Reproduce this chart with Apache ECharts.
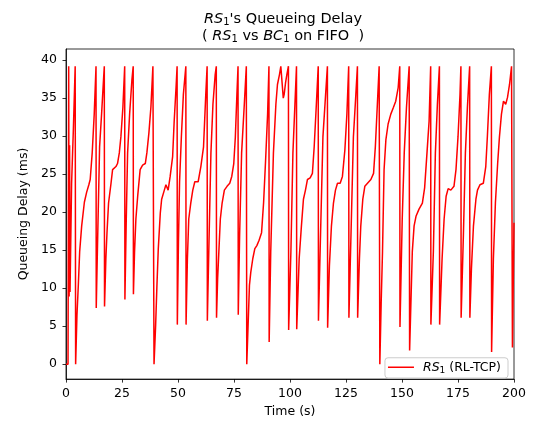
<!DOCTYPE html>
<html><head><meta charset="utf-8">
<script src="https://cdn.jsdelivr.net/npm/echarts@6/dist/echarts.min.js"></script>
<style>html,body{margin:0;padding:0;background:#fff}#c{width:535px;height:423px}</style>
</head><body><div id="c"></div>
<script>
// time (s), queueing delay (ms)
const seg0to50 = [
  [0,0],[0.9,0],[1.2,39.2],[1.4,8.9],[1.6,28.8],[1.8,9.5],[2.5,23.8],[3.3,31],[4.1,39.2],[4.3,0],
  [4.9,6.5],[5.5,10.4],[6.1,14.8],[7.0,18.2],[8.2,21.3],[9.2,22.6],[10.2,23.6],[10.8,24.3],[11.7,27.8],[12.6,32.9],[13.4,39.2],[13.5,7.4],
  [14.1,16.1],[15.0,28.6],[15.9,33],[16.8,37.7],[17.1,39.2],[17.2,7.6],
  [17.8,13.9],[18.3,17.3],[19.0,21.2],[20.1,23.8],[20.8,25.6],[22.3,26.0],[23.0,26.4],[23.8,27.8],[24.5,29.9],[25.4,33.8],[26.2,39.2],[26.3,8.5],
  [26.9,19],[27.5,27.8],[28.4,32.9],[29.4,37.3],[30.0,39.2],[30.1,9.2],
  [30.6,14.8],[31.2,19.1],[32.0,22.1],[33.1,25.6],[34.2,26.2],[35.4,26.4],[36.1,27.8],[37.0,30.4],[37.9,33.8],[38.8,39.2],[39.3,0],
  [40.0,5],[40.6,10.4],[41.2,15.2],[42.1,19.9],[42.7,21.7],[43.9,22.9],[44.6,23.6],[45.6,22.9],[46.5,24.7],[47.6,27.3],[48.3,32],[49.2,36.8],[49.6,39.2],[49.7,5.2]
];
const seg50to100 = [
  [50.2,16],[50.7,24],[51.5,29.9],[52.4,35.5],[53.5,39.2],[53.6,5.2],
  [54.2,13.9],[54.8,19.1],[55.7,21.2],[56.6,22.9],[57.5,24.0],[59.0,24.0],[60.2,26.0],[61.4,28.6],[62.4,35.5],[63.0,39.2],[63.1,5.7],
  [63.8,15.6],[64.7,27.8],[65.6,34.2],[66.6,38.1],[67.1,39.2],[67.2,6.1],
  [67.7,11.3],[68.3,15.2],[68.9,19.1],[69.7,21.2],[70.7,22.9],[71.9,23.4],[73.1,23.8],[74.0,24.7],[74.9,26.4],[75.6,29.9],[76.3,35.5],[76.8,39.2],[76.9,6.5],
  [77.5,16.9],[78.4,27.8],[79.6,34.2],[80.5,39.2],[80.7,0],
  [81.3,5.2],[81.9,10.4],[82.5,12.1],[83.4,13.9],[84.3,15.2],[85.2,15.6],[86.2,16.3],[87.3,17.3],[88.2,21.2],[89.1,26.8],[90.0,32.9],[90.6,39.2],[90.7,2.9],
  [91.4,14.8],[92.6,27.8],[93.7,34.2],[94.4,36.8],[95.3,38.1],[95.9,39.2],[96.6,39.2],[97.0,35],[97.4,35.5],[98.0,37],[98.6,38.1],[99.3,39.2],[99.4,4.5]
];
const seg100to150 = [
  [100.4,14.8],[101.3,27.8],[102.2,34.2],[102.9,39.2],[103.0,4.6],
  [104.1,13.9],[105.1,18.2],[106.0,21.7],[106.9,22.9],[107.8,24.3],[109.0,24.5],[110.0,25.1],[110.8,28.6],[111.7,33.8],[112.6,39.2],[112.7,5.7],
  [113.8,19.1],[114.7,29.9],[115.9,35.5],[116.7,39.2],[116.8,4.8],
  [117.6,13.0],[118.5,18.2],[119.4,21.2],[120.3,22.9],[121.2,23.8],[122.4,23.8],[123.4,24.7],[124.5,28.2],[125.4,32.9],[126.2,39.2],[126.3,6.1],
  [127.4,19.1],[128.3,29.9],[129.4,35.5],[130.1,39.2],[130.2,6.1],
  [131.0,13.9],[131.6,18.2],[132.5,21.7],[133.4,23.4],[134.6,23.8],[136.1,24.3],[137.3,25.1],[138.1,28.6],[139.0,34.2],[139.8,39.2],[140.1,0],
  [140.7,8],[141.3,14.8],[142.0,25.6],[142.8,29.5],[143.8,31.6],[145.0,32.9],[146.2,33.8],[147.2,34.6],[148.3,36.4],[149.0,39.2],[149.1,4.9]
];
const seg150to200 = [
  [150.1,19.1],[151.0,27.8],[152.0,33.8],[153.2,39.2],[153.4,1.8],
  [154.6,14.8],[155.4,18.2],[156.3,19.5],[157.6,20.4],[159.1,21.2],[160.1,23.2],[161.2,28.0],[162.1,32],[162.8,39.2],[162.9,5.2],
  [164.0,14.8],[164.9,27.8],[165.8,34.2],[166.7,39.2],[166.8,5.2],
  [167.9,13.9],[168.8,19.1],[169.7,22.1],[170.6,23.1],[171.8,22.9],[173.2,23.4],[174.1,25.6],[175.0,29.9],[175.9,35.5],[176.3,39.2],[176.4,6.1],
  [177.4,16.9],[178.3,27.8],[179.2,33.8],[180.2,39.2],[180.3,6.1],
  [181.0,12.6],[181.9,18.2],[183.0,21.7],[183.7,22.9],[184.8,23.6],[186.3,23.8],[187.4,26.0],[188.1,29.9],[189.0,35.5],[189.9,39.2],[190.0,1.6],
  [190.8,13.9],[191.7,21.2],[192.7,26.4],[193.5,29.9],[194.4,32.9],[195.3,34.6],[196.3,34.2],[197.1,35.1],[198.0,36.8],[198.9,39.2],[199.3,2.2],[200,18.6]
];
const xTicks = [0,25,50,75,100,125,150,175,200];
const yTicks = [0,5,10,15,20,25,30,35,40];

const FONT = 'DejaVu Sans';
const FS = 12.5;
const TFS = 14.5;
const data = [].concat(seg0to50, seg50to100, seg100to150, seg150to200);
const chart = echarts.init(document.getElementById('c'), null, {renderer:'canvas'});
const richBase = (fs, padFirst) => ({
  n:{fontFamily:FONT,fontSize:fs,color:'#000',lineHeight:fs+3},
  i:{fontFamily:FONT,fontSize:fs,fontStyle:'italic',color:'#000',lineHeight:fs+3,padding:[0,0,0,padFirst||0]},
  s:{fontFamily:FONT,fontSize:Math.round(fs*0.7),color:'#000',verticalAlign:'bottom',lineHeight:fs+3}
});
chart.setOption({
  animation:false,
  backgroundColor:'#fff',
  grid:{left:66,right:21,top:49,bottom:39,show:true,borderColor:'#000',borderWidth:0.8,containLabel:false},
  graphic:[
    {type:'text',x:283,y:19,style:{text:'{i|RS}{s|1}{n|\'s Queueing Delay}',rich:richBase(TFS),align:'center',verticalAlign:'middle',fill:'#000',font:TFS+'px '+FONT}},
    {type:'text',x:283,y:36,style:{text:'{n|( }{i|RS}{s|1}{n| vs }{i|BC}{s|1}{n| on FIFO  )}',rich:richBase(TFS),align:'center',verticalAlign:'middle',fill:'#000',font:TFS+'px '+FONT}}
  ],
  legend:{
    right:27, bottom:45, orient:'horizontal', icon:'rect',
    backgroundColor:'rgba(255,255,255,0.8)', borderColor:'#cccccc', borderWidth:1, borderRadius:3,
    padding:[3,7,3,3], itemWidth:26, itemHeight:1.5, itemGap:0,
    formatter:()=> '{i|RS}{s|1}{n| (RL-TCP)}',
    textStyle:{fontFamily:FONT,fontSize:FS,color:'#000',rich:richBase(FS,4)}
  },
  xAxis:{
    type:'value', min:0, max:200, interval:25,
    name:'Time (s)', nameLocation:'middle', nameGap:24,
    nameTextStyle:{fontFamily:FONT,fontSize:FS,color:'#000'},
    axisLine:{show:true,onZero:false,lineStyle:{color:'#000',width:0.8}},
    axisTick:{show:true,length:3.5,lineStyle:{color:'#000',width:0.8}},
    axisLabel:{fontFamily:FONT,fontSize:FS,color:'#000',margin:8,
      customValues:xTicks, formatter:(v)=>String(v)},
    splitLine:{show:false}
  },
  yAxis:{
    type:'value', min:-1.97, max:41.47,
    name:'Queueing Delay (ms)', nameLocation:'middle', nameGap:30,
    nameTextStyle:{fontFamily:FONT,fontSize:FS,color:'#000'},
    axisLine:{show:true,onZero:false,lineStyle:{color:'#000',width:0.8}},
    axisTick:{show:true,length:3.5,lineStyle:{color:'#000',width:0.8},customValues:yTicks},
    axisLabel:{fontFamily:FONT,fontSize:FS,color:'#000',margin:9,customValues:yTicks,formatter:(v)=>String(v)},
    splitLine:{show:false}
  },
  series:[{
    name:'RS1', type:'line', data:data, showSymbol:false, symbol:'none',
    lineStyle:{color:'#ff0000',width:1.5}, itemStyle:{color:'#ff0000'}
  }]
});
</script></body></html>
